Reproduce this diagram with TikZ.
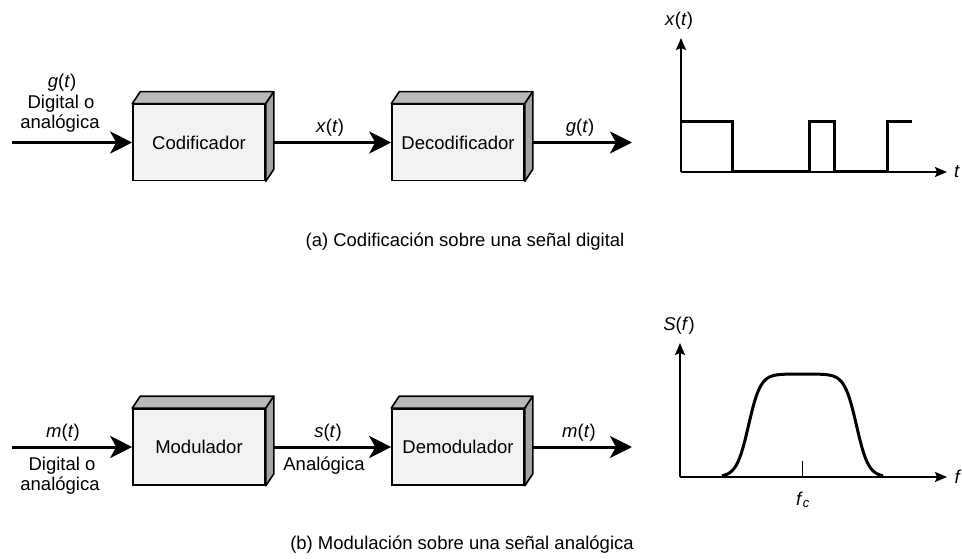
\documentclass[tikz,border=0pt]{standalone}
\usepackage{fontspec}
\setmainfont{Liberation Sans}
\usetikzlibrary{arrows.meta}
\begin{document}
\begin{tikzpicture}[x=1pt,y=-1pt,
  font=\fontsize{18.5}{20}\selectfont,
  blk/.style={draw,line width=1.6pt,fill=gray!10,minimum width=132pt,minimum height=76pt,inner sep=0pt},
  face/.style={draw,line width=1.6pt,line join=round},
  topface/.style={face,fill=gray!55},
  sideface/.style={face,fill=gray!72},
  flow/.style={line width=3pt,-{Stealth[length=22pt,width=22pt,inset=6pt]}},
  axis/.style={line width=1.3pt,-{Stealth[length=12pt,width=10pt,inset=2pt]}},
  sig/.style={line width=3pt,line join=miter},
  lbl/.style={inner sep=0pt,anchor=base}]
\useasboundingbox[fill=white] (0,0) rectangle (962,559);

% ---------- part (a) ----------
\node[blk] (A1) at (199,142.5) {Codificador};
\node[blk] (A2) at (458,142.5) {Decodificador};
\foreach \b in {A1,A2}{
  \draw[topface] (\b.north west) -- ++(8,-12) -- ([shift={(8,-12)}]\b.north east) -- (\b.north east) -- cycle;
  \draw[sideface] (\b.north east) -- ++(8,-12) -- ([shift={(8,-12)}]\b.south east) -- (\b.south east) -- cycle;
}
\coordinate (inA) at (12,142.5);
\coordinate (outA) at (632,142.5);
\draw[flow] (inA) -- (A1.west);
\draw[flow] ([xshift=8pt]A1.east) -- (A2.west);
\draw[flow] ([xshift=8pt]A2.east) -- (outA);

\node[lbl] (gA) at (62,88) {\textit{g}(\textit{t})};
\node[lbl] (dA) at (61,109) {Digital o};
\node[lbl] (aA) at (60,129) {analógica};
\node[lbl] (xA) at (330,132.5) {\textit{x}(\textit{t})};
\node[lbl] (goA) at (580,132.5) {\textit{g}(\textit{t})};

% graph (a)
\coordinate (Oa) at (681,172);
\coordinate (Ya) at (681,38);
\coordinate (Xa) at (947,172);
\draw[axis] (Oa) -- (Ya);
\draw[axis] (Oa) -- (Xa);
\draw[sig] (681,122) -- (732,122) -- (732,172) -- (809,172) -- (809,122) -- (834,122)
  -- (834,172) -- (887,172) -- (887,122) -- (912,122);
\node[lbl] (xlab) at (679,26) {\textit{x}(\textit{t})};
\node[lbl] (tlab) at (957,178) {\textit{t}};

\node[lbl] (capA) at (465,247) {(a) Codificación sobre una señal digital};

% ---------- part (b) ----------
\node[blk] (B1) at (199,447) {Modulador};
\node[blk] (B2) at (458,447) {Demodulador};
\foreach \b in {B1,B2}{
  \draw[topface] (\b.north west) -- ++(8,-12) -- ([shift={(8,-12)}]\b.north east) -- (\b.north east) -- cycle;
  \draw[sideface] (\b.north east) -- ++(8,-12) -- ([shift={(8,-12)}]\b.south east) -- (\b.south east) -- cycle;
}
\coordinate (inB) at (12,447);
\coordinate (outB) at (632,447);
\draw[flow] (inB) -- (B1.west);
\draw[flow] ([xshift=8pt]B1.east) -- (B2.west);
\draw[flow] ([xshift=8pt]B2.east) -- (outB);

\node[lbl] (mB) at (63,437) {\textit{m}(\textit{t})};
\node[lbl] (dB) at (62,470) {Digital o};
\node[lbl] (aB) at (60,490) {analógica};
\node[lbl] (sB) at (328,437) {\textit{s}(\textit{t})};
\node[lbl] (anB) at (324,470) {Analógica};
\node[lbl] (moB) at (579,437) {\textit{m}(\textit{t})};

% graph (b)
\coordinate (Ob) at (680,477);
\coordinate (Yb) at (680,343);
\coordinate (Xb) at (947,477);
\draw[axis] (Ob) -- (Yb);
\draw[axis] (Ob) -- (Xb);
\draw[sig,line join=round] plot[domain=722:883,samples=161]
  (\x,{477-103/(1+exp((abs(\x-802.5)-54)/6))});
\coordinate (tk0) at (802.5,477);
\coordinate (tk1) at (802.5,461);
\draw[line width=1.3pt] (tk0) -- (tk1);
\node[lbl] (Slab) at (679,330) {\textit{S}(\textit{f})};
\node[lbl] (flab) at (958,483) {\textit{f}};
\node (fclab) at (803,500) {\textit{f}\textsubscript{\textit{c}}};

\node[lbl] (capB) at (462,549) {(b) Modulación sobre una señal analógica};
\end{tikzpicture}
\end{document}
